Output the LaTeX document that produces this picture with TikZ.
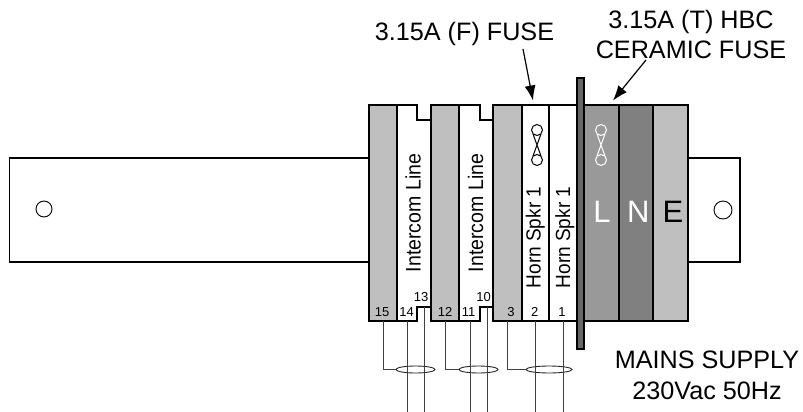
\documentclass[tikz,border=0pt]{standalone}
\usepackage{fontspec}
\setmainfont{Liberation Sans}
\newfontfamily\sidefont[FakeStretch=.93]{Liberation Sans}
\usetikzlibrary{arrows.meta,shapes.geometric}
\definecolor{lightgrey}{gray}{.75}
\definecolor{midgrey}{gray}{.6}
\definecolor{darkgrey}{gray}{.5}
\tikzset{
	block/.style={draw,line width=1.1pt},
	wire/.style={draw=black!75,line width=.9pt},
	loop/.style={draw=black!85,line width=.9pt,ellipse,minimum height=7,inner sep=0pt},
	pointer/.style={-{Latex[length=15pt,width=11pt]},line width=1.2pt},
	number/.style={font=\fontsize{13}{13}\selectfont,inner sep=0pt,anchor=base},
	side/.style={font=\sidefont\fontsize{#1}{20}\selectfont,inner sep=0pt,rotate=90,anchor=base},
	letter/.style={font=\fontsize{31}{31}\selectfont,inner sep=0pt,anchor=base},
	title/.style={font=\fontsize{25.2}{#1}\selectfont,inner sep=0pt,align=center},
}
\newcommand{\fuselink}[3]{% x, y, colour
	\draw[#3,line width=1pt] (#1,#2) circle (5.5) (#1,#2+30) circle (5.5)
	(#1-4,#2+4) -- (#1+4,#2+26) (#1+4,#2+4) -- (#1-4,#2+26);
}
\begin{document}
\begin{tikzpicture}[x=1pt,y=-1pt]
	\useasboundingbox (0,0) rectangle (803,412);

	% mounting bracket
	\draw[block] (369,158) -- (9.5,158) -- (9.5,262) -- (369,262);
	\draw[block] (688,158) -- (740,158) -- (740,262) -- (688,262);
	\draw[line width=.9pt] (44,209) circle (8);
	\draw[line width=.9pt] (723,210) circle (9);

	% terminal strip
	\filldraw[block,fill=lightgrey] (369,105) rectangle (397,321);
	\draw[block] (397,105) -- (417,105) -- (417,120) -- (431,120) -- (431,307) -- (417,307) -- (417,321) -- (397,321) -- cycle;
	\filldraw[block,fill=lightgrey] (431,105) rectangle (459,321);
	\draw[block] (459,105) -- (480,105) -- (480,120) -- (493,120) -- (493,307) -- (480,307) -- (480,321) -- (459,321) -- cycle;
	\filldraw[block,fill=lightgrey] (493,105) rectangle (522,321);
	\draw[block] (522,105) rectangle (549,321);
	\draw[block] (549,105) rectangle (577,321);
	\filldraw[block,fill=midgrey] (584,105) rectangle (619,321);
	\filldraw[block,fill=darkgrey] (619,105) rectangle (653,321);
	\filldraw[block,fill=lightgrey] (653,105) rectangle (688,321);
	\filldraw[block,fill=darkgrey!80!black] (577,78) rectangle (584,349);

	\fuselink{537}{130}{black}
	\fuselink{601}{130}{white}

	% terminal labels
	\node[side=21] (line13) at (420.7,213) {Intercom Line};
	\node[side=21] (line10) at (483,213) {Intercom Line};
	\node[side=20.5] (spkr2) at (540.5,237.5) {Horn Spkr 1};
	\node[side=20.5] (spkr1) at (570,237.5) {Horn Spkr 1};
	\node[letter,white] (live) at (602,222.3) {L};
	\node[letter,white] (neutral) at (638.3,222.3) {N};
	\node[letter] (earth) at (673,222.3) {E};

	\node[number] (t15) at (382,316.7) {15};
	\node[number] (t14) at (406.5,316.7) {14};
	\node[number] (t13) at (421,301.7) {13};
	\node[number] (t12) at (445,316.7) {12};
	\node[number] (t11) at (468.7,316.7) {11};
	\node[number] (t10) at (483.7,301.7) {10};
	\node[number] (t3) at (511,316.7) {3};
	\node[number] (t2) at (534.7,316.7) {2};
	\node[number] (t1) at (562,316.7) {1};

	% cables
	\node[loop,minimum width=39] (cableA) at (415.5,369.5) {};
	\node[loop,minimum width=39] (cableB) at (478.5,369.5) {};
	\node[loop,minimum width=46] (cableC) at (549,369.5) {};
	\draw[wire] (383,321) |- (cableA.west);
	\draw[wire] (445,321) |- (cableB.west);
	\draw[wire] (507,321) |- (cableC.west);
	\draw[wire] (407,321) -- (407,412);
	\draw[wire] (424,307) -- (424,412);
	\draw[wire] (470,321) -- (470,412);
	\draw[wire] (487,307) -- (487,412);
	\draw[wire] (535,321) -- (535,412);
	\draw[wire] (563,321) -- (563,412);

	% captions
	\node[title=30,anchor=base] (fuseF) at (464.5,41) {3.15A (F) FUSE};
	\node[title=30] (fuseT) at (691,34.4) {3.15A (T) HBC\\CERAMIC FUSE};
	\node[title=31] (mains) at (707,375) {MAINS SUPPLY\\230Vac 50Hz};
	\coordinate (tipF) at (533,100.5);
	\coordinate (tipT) at (613,100.5);
	\draw[pointer] (523,49) -- (tipF);
	\draw[pointer] (646,60) -- (tipT);
\end{tikzpicture}
\end{document}
